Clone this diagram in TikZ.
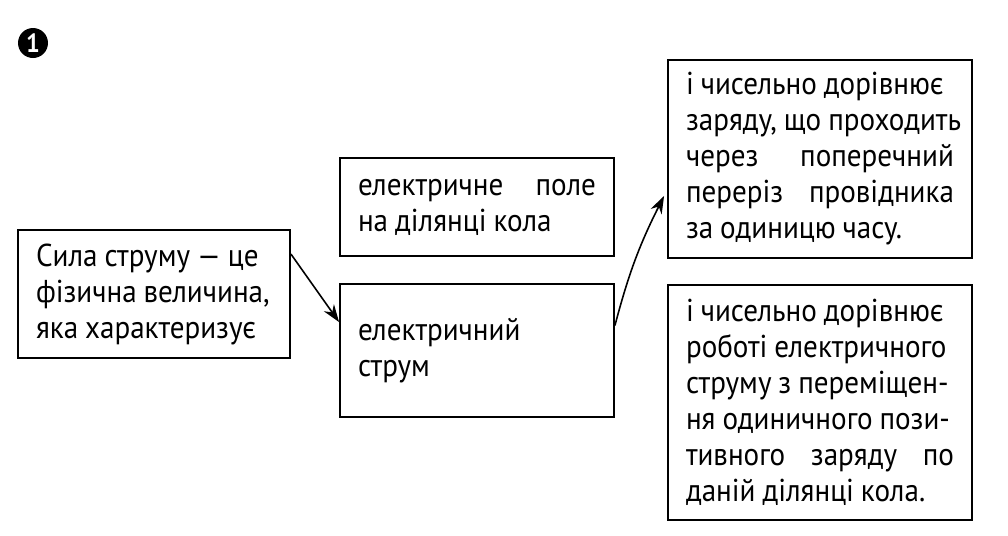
\documentclass[tikz,border=0pt]{standalone}
\usepackage{fontspec}
\setmainfont[FakeStretch=0.92]{PT Sans}
\usetikzlibrary{arrows.meta}
\newcommand{\bline}[1]{\makebox[\linewidth][l]{#1}}
\newcommand{\tightspace}{\spaceskip=0.22em plus 0.1em minus 0.05em\relax}

\begin{document}
\begin{tikzpicture}[x=0.02cm,y=-0.02cm]

\tikzset{box/.style = {draw, line width=1.1pt, align=left, inner xsep=0.36cm, inner ysep=0pt,
  font=\fontsize{18}{20.5}\selectfont, execute at begin node=\tightspace}}
\tikzset{edge/.style = {-{Stealth[length=10pt,width=7pt]}, line width=0.9pt}}
\useasboundingbox (0,0) rectangle (1008,535);
%number
\node[circle, fill=black, text=white, inner sep=0pt, minimum size=0.6cm,
  font=\bfseries\fontsize{15}{15}\selectfont] (num) at (33,43) {1};
%boxes
\node[box, text width=4.72cm, minimum height=2.56cm] (def) at (154,294)
  {\bline{Сила струму — це}\\\bline{фізична величина,}\\\bline{яка характеризує}};
\node[box, text width=4.76cm, minimum height=1.96cm] (field) at (477,207)
  {електричне\hfill поле\\\bline{на ділянці кола}};
\node[box, text width=4.76cm, minimum height=2.66cm] (current) at (477,350.5)
  {\bline{електричний}\\\bline{струм}};
\node[box, text width=5.36cm, minimum height=3.96cm] (charge) at (820,159)
  {\bline{і чисельно дорівнює}\\\bline{заряду, що проходить}\\через\hfill поперечний\\переріз\hfill провідника\\\bline{за одиницю часу.}};
\node[box, text width=5.36cm, minimum height=4.7cm] (work) at (820,402.5)
  {\bline{і чисельно дорівнює}\\\bline{роботі електричного}\\\bline{струму з переміщен-}\\\bline{ня одиничного пози-}\\тивного\hfill заряду\hfill по\\\bline{даній ділянці кола.}};
%arrows
\draw[edge] (def.north east) ++(0,25) coordinate (from)
  (current.north west) ++(0,39) coordinate (into)
  (from) -- (into);
\draw[edge] (current.east) ++(0,-25) coordinate (up)
  (charge.south west) ++(-3,-63) coordinate (top)
  (up) to[bend left=6] (top);

\end{tikzpicture}
\end{document}
